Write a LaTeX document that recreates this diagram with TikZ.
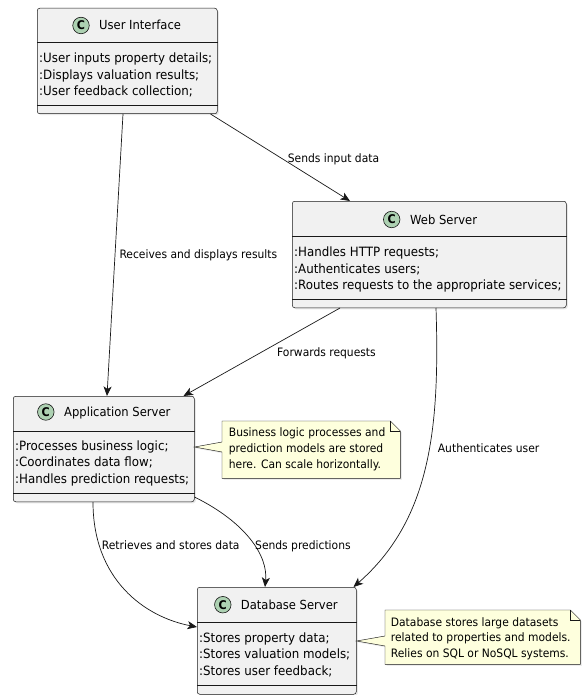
\documentclass[tikz,border=0pt]{standalone}
\usepackage{fontspec}
\setmainfont{DejaVu Sans}[FakeStretch=0.925]
\usetikzlibrary{arrows.meta,calc,shadows}
\definecolor{boxfill}{HTML}{F1F1F1}
\definecolor{boxline}{HTML}{181818}
\definecolor{circfill}{HTML}{ADD1B2}
\definecolor{notefill}{HTML}{FEFFDD}
\begin{document}
\begin{tikzpicture}[x=1pt,y=-1pt,
  cls/.style={draw=boxline, fill=boxfill, line width=0.5pt, rounded corners=2.5pt,
    inner sep=0pt, anchor=north west,
    drop shadow={shadow xshift=1.5pt, shadow yshift=-1.5pt, opacity=0.18}},
  divline/.style={draw=boxline, line width=0.45pt},
  ccirc/.style={circle, draw=boxline, fill=circfill, line width=0.6pt, minimum size=16.5pt,
    inner sep=0pt, font=\fontsize{12}{13}\selectfont\bfseries},
  ctitle/.style={anchor=base west, inner sep=0pt, font=\fontsize{12.5}{14}\selectfont},
  cfield/.style={anchor=base west, inner sep=0pt, font=\fontsize{12.8}{14}\selectfont},
  notebox/.style={draw=none, inner sep=0pt, anchor=north west},
  noteshape/.style={draw=boxline, fill=notefill, line width=0.45pt,
    drop shadow={shadow xshift=1.5pt, shadow yshift=-1.5pt, opacity=0.15}},
  notetext/.style={anchor=base west, inner sep=0pt, font=\fontsize{11.6}{13}\selectfont},
  elabel/.style={anchor=base west, inner sep=0pt, font=\fontsize{11.6}{13}\selectfont},
  link/.style={draw=boxline, line width=0.7pt,
    -{Stealth[length=9.5pt, width=8pt, inset=2.5pt]}},
]
\useasboundingbox (0,0) rectangle (584,695);

% ---------- User Interface ----------
\node[cls, minimum width=180pt, minimum height=105.5pt] (ui) at (37,8) {};
\draw[divline] (ui.west |- 0,42.5) -- (ui.east |- 0,42.5);
\draw[divline] (ui.west |- 0,105) -- (ui.east |- 0,105);
\node[ccirc] (uic) at (81,25.5) {C};
\node[ctitle] (uit) at (99,30) {User Interface};
\node[cfield] (uif1) at (39,62.5) {:User inputs property details;};
\node[cfield] (uif2) at (39,79.2) {:Displays valuation results;};
\node[cfield] (uif3) at (39,95.9) {:User feedback collection;};

% ---------- Web Server ----------
\node[cls, minimum width=274pt, minimum height=106.5pt] (web) at (292,201) {};
\draw[divline] (web.west |- 0,236.5) -- (web.east |- 0,236.5);
\draw[divline] (web.west |- 0,299) -- (web.east |- 0,299);
\node[ccirc] (webc) at (391.7,219.5) {C};
\node[ctitle] (webt) at (410,224) {Web Server};
\node[cfield] (webf1) at (294,256.5) {:Handles HTTP requests;};
\node[cfield] (webf2) at (294,273.2) {:Authenticates users;};
\node[cfield] (webf3) at (294,289.9) {:Routes requests to the appropriate services;};

% ---------- Application Server ----------
\node[cls, minimum width=181pt, minimum height=105.5pt] (app) at (13,396) {};
\draw[divline] (app.west |- 0,431) -- (app.east |- 0,431);
\draw[divline] (app.west |- 0,493) -- (app.east |- 0,493);
\node[ccirc] (appc) at (45.8,412) {C};
\node[ctitle] (appt) at (64,416.5) {Application Server};
\node[cfield] (appf1) at (15,450) {:Processes business logic;};
\node[cfield] (appf2) at (15,466.7) {:Coordinates data flow;};
\node[cfield] (appf3) at (15,483.4) {:Handles prediction requests;};

% ---------- Database Server ----------
\node[cls, minimum width=159pt, minimum height=107pt] (db) at (197,587) {};
\draw[divline] (db.west |- 0,622) -- (db.east |- 0,622);
\draw[divline] (db.west |- 0,685.5) -- (db.east |- 0,685.5);
\node[ccirc] (dbc) at (222.8,604.7) {C};
\node[ctitle] (dbt) at (240.7,609) {Database Server};
\node[cfield] (dbf1) at (199,642) {:Stores property data;};
\node[cfield] (dbf2) at (199,658.7) {:Stores valuation models;};
\node[cfield] (dbf3) at (199,675.4) {:Stores user feedback;};

% ---------- Notes ----------
\node[notebox, minimum width=178pt, minimum height=57pt] (n1) at (222,421) {};
\draw[noteshape] (n1.north west) -- ([xshift=-10pt]n1.north east)
  -- ([yshift=-10pt]n1.north east) -- (n1.south east) -- (n1.south west)
  -- (n1.west |- 0,452) -- (app.east |- 0,447) -- (n1.west |- 0,442) -- cycle;
\draw[divline] ([xshift=-10pt]n1.north east) -- ([xshift=-10pt,yshift=-10pt]n1.north east)
  -- ([yshift=-10pt]n1.north east);
\node[notetext] (n1a) at (228.7,436.5) {Business logic processes and};
\node[notetext] (n1b) at (228.7,452.5) {prediction models are stored};
\node[notetext] (n1c) at (228.7,468.5) {here. Can scale horizontally.};

\node[notebox, minimum width=195pt, minimum height=54pt] (n2) at (385,610) {};
\draw[noteshape] (n2.north west) -- ([xshift=-10pt]n2.north east)
  -- ([yshift=-10pt]n2.north east) -- (n2.south east) -- (n2.south west)
  -- (n2.west |- 0,646) -- (db.east |- 0,641) -- (n2.west |- 0,636) -- cycle;
\draw[divline] ([xshift=-10pt]n2.north east) -- ([xshift=-10pt,yshift=-10pt]n2.north east)
  -- ([yshift=-10pt]n2.north east);
\node[notetext] (n2a) at (390.7,626) {Database stores large datasets};
\node[notetext] (n2b) at (390.7,641.5) {related to properties and models.};
\node[notetext] (n2c) at (390.7,657) {Relies on SQL or NoSQL systems.};

% ---------- Connectors ----------
\draw[link] ([xshift=-7pt]ui.south east) -- ([xshift=58pt]web.north west);
\node[elabel] (l1) at (287.7,162) {Sends input data};

\draw[link] ([xshift=86pt]ui.south west) -- ([xshift=94pt]app.north west);
\node[elabel] (l2) at (119.3,258.5) {Receives and displays results};

\draw[link] ([xshift=48pt]web.south west) -- ([xshift=-11pt]app.north east);
\node[elabel] (l3) at (277,356) {Forwards requests};

\draw[link] ([xshift=144pt]web.south west) .. controls (440,430) and (430,520) .. ([xshift=-3pt]db.north east);
\node[elabel] (l4) at (437.7,452.5) {Authenticates user};

\draw[link] ([xshift=80pt]app.south west) .. controls (93,580) and (145,617) .. (db.west |- 0,627);
\node[elabel] (l5) at (101.7,549) {Retrieves and stores data};

\draw[link] ([yshift=5pt]app.south east) .. controls (245,522) and (268,555) .. ([xshift=68pt]db.north west);
\node[elabel] (l6) at (255,549) {Sends predictions};
\end{tikzpicture}
\end{document}
